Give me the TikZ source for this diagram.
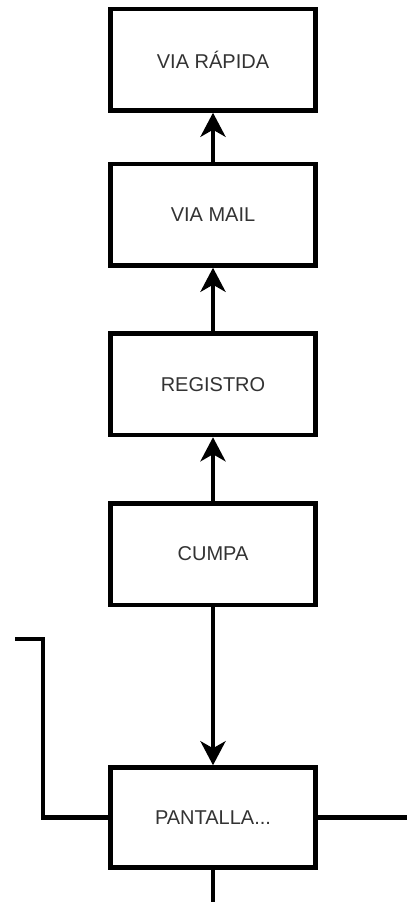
\documentclass[tikz,border=0pt]{standalone}
\usepackage{fontspec}
\setmainfont{Liberation Sans}
\usetikzlibrary{arrows.meta}
\begin{document}
\begin{tikzpicture}[x=1pt,y=-1pt,
  stepbox/.style={draw=black, line width=4.5pt, fill=white, minimum width=205pt, minimum height=101.5pt, inner sep=0pt, font=\fontsize{20pt}{24pt}\selectfont, text=black!80},
  conn/.style={line width=4.5pt, draw=black},
  arr/.style={conn, -{Stealth[length=24pt, width=25pt, inset=7pt]}}]
\useasboundingbox (0,0) rectangle (407,902);
\node[stepbox] (rapida) at (213,59.75) {VIA RÁPIDA};
\node[stepbox] (mail) at (213,214.75) {VIA MAIL};
\node[stepbox] (registro) at (213,384.25) {REGISTRO};
\node[stepbox] (cumpa) at (213,554) {CUMPA};
\node[stepbox, minimum height=100pt] (pantalla) at (213,817.5) {PANTALLA...};
\coordinate (lstart) at (15,639);
\coordinate (lcorner) at (43,639);
\coordinate (rend) at (407,817.5);
\coordinate (bend) at (213,902);
\draw[arr] (mail.north) -- (rapida.south);
\draw[arr] (registro.north) -- (mail.south);
\draw[arr] (cumpa.north) -- (registro.south);
\draw[arr] (cumpa.south) -- (pantalla.north);
\draw[conn] (lstart) -- (lcorner) |- (pantalla.west);
\draw[conn] (pantalla.east) -- (rend);
\draw[conn] (pantalla.south) -- (bend);
\end{tikzpicture}
\end{document}
